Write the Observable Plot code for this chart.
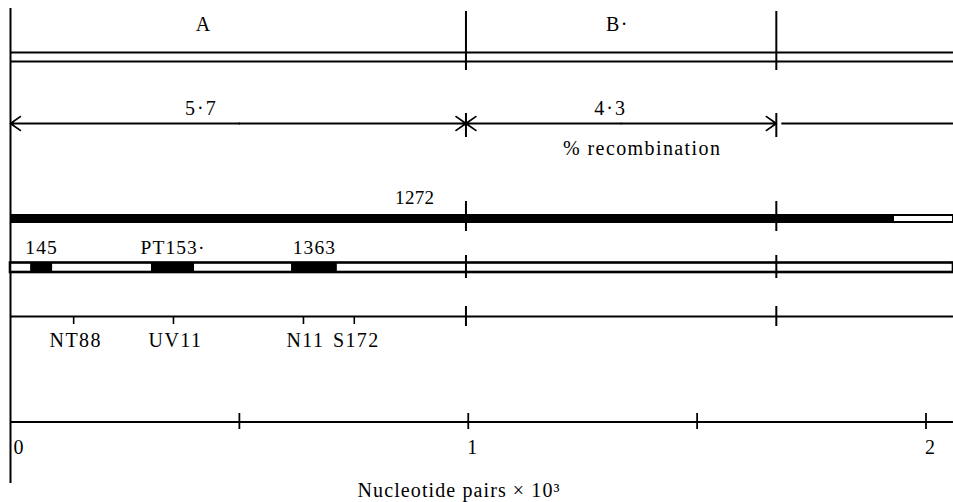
<!DOCTYPE html>
<html><head><meta charset="utf-8">
<script src="https://cdn.jsdelivr.net/npm/d3@7"></script>
<script src="https://cdn.jsdelivr.net/npm/@observablehq/plot@0.6"></script>
<style>
html,body{margin:0;padding:0;background:#fff;overflow:hidden;}
.w text{letter-spacing:1.4px;}
.t text{letter-spacing:1.1px;}
.n text{letter-spacing:0.3px;}
.r text{letter-spacing:2px;}
</style></head><body><div id="chart"></div>
<script>
// ---- data (kb = nucleotide pairs x 10^3) ----
const genes = ["A", "B·"];
const geneStart = [0, 0.995];
const geneEnd = [0.995, 1.673];
const recombination = ["5·7", "4·3"];
const deletionName = ["1272"];
const deletionEnd = [1.929];
const substitutionNames = ["145", "PT153·", "1363"];
const substitutionStart = [0.044, 0.308, 0.614];
const substitutionEnd = [0.092, 0.402, 0.714];
const pointNames = ["NT88", "UV11", "N11", "S172"];
const pointPos = [0.138, 0.356, 0.640, 0.751];
const axisTicks = [0.5, 1, 1.5, 2];
const axisLabels = ["0", "1", "2"];
const axisLabelValues = [0, 1, 2];
const mapEnd = 2.06;

// ---- layout (pixel rows and label anchors) ----
const L = {
  geneLabelY: 24, geneLineY: [52, 61], geneBoundY: [11, 70],
  geneLabelX: [0.422, 1.326],
  recY: 123, recLabelY: 108, recLabelX: [0.417, 1.311], recTickY: [113, 137],
  recTitleX: 1.38, recTitleY: 148,
  delY: [214, 223], delLabelY: 197, delLabelX: 0.883, delTickY: [201, 231],
  subY: [262.5, 272], subLabelY: 247, subTickY: [255, 278],
  ptY: 316, ptTickEnd: 324, ptLabelY: 340, ptBoundY: [306, 326],
  axisY: 421.5, axisTickY: [413, 429], axisLabelY: 447,
  leftLine: [8, 483], titleX: 0.98, titleY: 490
};

const boundaries = geneEnd;
const font = "Liberation Serif, Times New Roman, serif";
const sw = 1.8;
const txt = {fontFamily: font, fill: "black"};

const marks = [];
// left vertical line
marks.push(Plot.ruleX([0], {y1: L.leftLine[0], y2: L.leftLine[1], stroke: "black", strokeWidth: 2}));
// gene row
marks.push(Plot.ruleY(L.geneLineY, {x1: 0, x2: mapEnd, y: d => d, stroke: "black", strokeWidth: sw}));
marks.push(Plot.ruleX(boundaries, {x: d => d, y1: L.geneBoundY[0], y2: L.geneBoundY[1], stroke: "black", strokeWidth: 2}));
marks.push(Plot.text(genes, {...txt, x: (d, i) => L.geneLabelX[i], y: L.geneLabelY, text: d => d, fontSize: 20, className: "w"}));

// recombination arrows
const arrows = [
  {x1: 0.5, x2: 0}, {x1: 0.5, x2: geneEnd[0]},
  {x1: 1.334, x2: geneStart[1]}, {x1: 1.334, x2: geneEnd[1]}
];
marks.push(Plot.arrow(arrows, {x1: "x1", x2: "x2", y1: L.recY, y2: L.recY, stroke: "black", strokeWidth: sw, headLength: 10, headAngle: 70}));
marks.push(Plot.ruleY([L.recY], {x1: geneEnd[1] + 0.012, x2: mapEnd, stroke: "black", strokeWidth: sw}));
marks.push(Plot.ruleX(boundaries, {x: d => d, y1: L.recTickY[0], y2: L.recTickY[1], stroke: "black", strokeWidth: 2}));
marks.push(Plot.text(recombination, {...txt, x: (d, i) => L.recLabelX[i], y: L.recLabelY, text: d => d, fontSize: 20, className: "r"}));
marks.push(Plot.text(["% recombination"], {...txt, x: L.recTitleX, y: L.recTitleY, text: d => d, fontSize: 20, className: "w"}));

// deletion 1272
marks.push(Plot.rect(deletionEnd, {x1: 0, x2: d => d, y1: L.delY[0], y2: L.delY[1], fill: "black"}));
marks.push(Plot.rect(deletionEnd, {x1: d => d, x2: mapEnd, y1: L.delY[0] + 1, y2: L.delY[1] - 1, fill: "white", stroke: "black", strokeWidth: 2}));
marks.push(Plot.ruleX(boundaries, {x: d => d, y1: L.delTickY[0], y2: L.delTickY[1], stroke: "black", strokeWidth: 2}));
marks.push(Plot.text(deletionName, {...txt, x: L.delLabelX, y: L.delLabelY, text: d => d, fontSize: 19, className: "n"}));

// substitution track
marks.push(Plot.rect([0], {x1: 0, x2: mapEnd, y1: L.subY[0], y2: L.subY[1], fill: "white", stroke: "black", strokeWidth: 2.6}));
marks.push(Plot.rect(substitutionNames, {x1: (d, i) => substitutionStart[i], x2: (d, i) => substitutionEnd[i], y1: L.subY[0], y2: L.subY[1], fill: "black"}));
marks.push(Plot.ruleX(boundaries, {x: d => d, y1: L.subTickY[0], y2: L.subTickY[1], stroke: "black", strokeWidth: 2}));
marks.push(Plot.text(substitutionNames, {...txt, x: (d, i) => (substitutionStart[i] + substitutionEnd[i]) / 2, y: L.subLabelY, text: d => d, fontSize: 19.5, className: "t"}));

// point mutations track
marks.push(Plot.ruleY([L.ptY], {x1: 0, x2: mapEnd, stroke: "black", strokeWidth: sw}));
marks.push(Plot.ruleX(pointPos, {x: d => d, y1: L.ptY, y2: L.ptTickEnd, stroke: "black", strokeWidth: 1.6}));
marks.push(Plot.ruleX(boundaries, {x: d => d, y1: L.ptBoundY[0], y2: L.ptBoundY[1], stroke: "black", strokeWidth: 2}));
marks.push(Plot.text(pointNames, {...txt, x: (d, i) => pointPos[i], y: L.ptLabelY, dx: 2, text: d => d, fontSize: 20, className: "w"}));

// scale axis
marks.push(Plot.ruleY([L.axisY], {x1: 0, x2: mapEnd, stroke: "black", strokeWidth: sw}));
marks.push(Plot.ruleX(axisTicks, {x: d => d, y1: L.axisTickY[0], y2: L.axisTickY[1], stroke: "black", strokeWidth: 1.8}));
marks.push(Plot.text(axisLabels, {...txt, x: (d, i) => axisLabelValues[i], y: L.axisLabelY, text: d => d, textAnchor: "start", fontSize: 20, filter: (d, i) => i === 0, dx: 3}));
marks.push(Plot.text(axisLabels, {...txt, x: (d, i) => axisLabelValues[i], y: L.axisLabelY, text: d => d, fontSize: 20, filter: (d, i) => i > 0, dx: 4}));
marks.push(Plot.text(["Nucleotide pairs × 10³"], {...txt, x: L.titleX, y: L.titleY, text: d => d, fontSize: 20, className: "t"}));

const chart = Plot.plot({
  width: 953, height: 502, margin: 0,
  x: {domain: [0, 2], range: [10, 925.5], axis: null},
  y: {type: "identity", axis: null},
  style: {background: "white", fontFamily: font},
  marks
});
document.getElementById("chart").appendChild(chart);
</script>
</body></html>
